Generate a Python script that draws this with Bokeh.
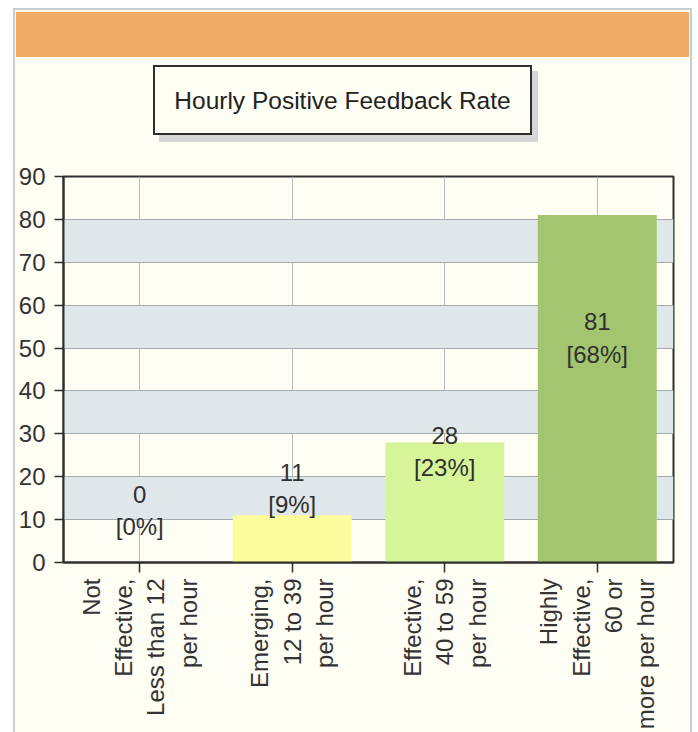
import math
from bokeh.plotting import figure
from bokeh.models import Range1d, FactorRange, SingleIntervalTicker, ColumnDataSource, Div
from bokeh.layouts import column, row
from bokeh.embed import file_html
from bokeh.resources import INLINE
from bokeh.core.properties import value

# ---------------- data ----------------
chart_title = "Hourly Positive Feedback Rate"
categories = [
    "Not\nEffective,\nLess than 12\nper hour",
    "Emerging,\n12 to 39\nper hour",
    "Effective,\n40 to 59\nper hour",
    "Highly\nEffective,\n60 or\nmore per hour",
]
counts = [0, 11, 28, 81]
percents = [0, 9, 23, 68]
y_max = 90
y_step = 10

# ---------------- styles / layout ----------------
CREAM = "#fefef4"
BAND = "#e0e7eb"
ORANGE = "#f0ac66"
DARK = "#2e2e2e"
BORDER = "#c8cdd2"
FONT = "Liberation Sans"
bar_colors = ["#fcfc9c", "#fcfc9c", "#d5f598", "#a3c56f"]
label_y = [12.1, 17.3, 25.9, 52.3]   # label block centres (layout)

W = 698
HEAD_H = 160
MAIN_H = 572
LEFT_W = 15
RIGHT_W = 8
FIG_W = W - LEFT_W - RIGHT_W

# ---------------- header (HTML) ----------------
head_html = f"""
<div style="position:relative;box-sizing:border-box;width:{W}px;height:{HEAD_H}px;background:#ffffff;overflow:hidden;margin:0;padding:0;">
  <div style="position:absolute;box-sizing:border-box;left:13px;top:8px;width:679px;height:300px;border:2px solid {BORDER};background:{CREAM};"></div>
  <div style="position:absolute;box-sizing:border-box;left:16px;top:12px;width:673px;height:45px;background:{ORANGE};"></div>
  <div style="position:absolute;box-sizing:border-box;left:159px;top:71px;width:379px;height:71px;background:#d6d6d6;"></div>
  <div style="position:absolute;box-sizing:border-box;left:153px;top:65px;width:379px;height:70px;border:2px solid {DARK};background:{CREAM};
              display:flex;align-items:center;justify-content:center;
              font-family:'{FONT}';font-size:24.5px;color:#222222;white-space:nowrap;">{chart_title}</div>
</div>
"""
head = Div(text=head_html, width=W, height=HEAD_H, margin=(0, 0, 0, 0))

left_html = f"""
<div style="position:relative;box-sizing:border-box;width:{LEFT_W}px;height:{MAIN_H}px;background:#ffffff;margin:0;padding:0;">
  <div style="position:absolute;left:13px;top:0;width:2px;height:{MAIN_H}px;background:{BORDER};"></div>
</div>
"""
right_html = f"""
<div style="position:relative;box-sizing:border-box;width:{RIGHT_W}px;height:{MAIN_H}px;background:#ffffff;margin:0;padding:0;">
  <div style="position:absolute;left:0;top:0;width:2px;height:{MAIN_H}px;background:{BORDER};"></div>
</div>
"""
left_strip = Div(text=left_html, width=LEFT_W, height=MAIN_H, margin=(0, 0, 0, 0))
right_strip = Div(text=right_html, width=RIGHT_W, height=MAIN_H, margin=(0, 0, 0, 0))

# ---------------- main chart ----------------
src = ColumnDataSource(dict(
    cat=categories,
    count=counts,
    color=bar_colors,
    label=[f"{c}\n[{pc}%]" for c, pc in zip(counts, percents)],
    ly=label_y,
))

p = figure(width=FIG_W, height=MAIN_H, x_range=FactorRange(*categories), y_range=Range1d(0, y_max),
           toolbar_location=None, output_backend="svg",
           min_border_left=47, min_border_right=17, min_border_top=16, min_border_bottom=170,
           background_fill_color=CREAM, border_fill_color=CREAM,
           outline_line_color=DARK, outline_line_width=2, margin=(0, 0, 0, 0))

p.vbar(x="cat", top="count", width=0.78, fill_color="color", line_color=None, source=src)
p.text(x="cat", y="ly", text="label", source=src, text_align="center", text_baseline="middle",
       text_font=value(FONT), text_font_size="24px", text_color="#303030", text_line_height=1.2)

# grids
p.ygrid.ticker = SingleIntervalTicker(interval=y_step)
p.ygrid.grid_line_color = "#a4abb0"
p.ygrid.grid_line_width = 1
p.ygrid.band_fill_color = BAND
p.ygrid.band_fill_alpha = 1.0
p.xgrid.grid_line_color = "#b8bcc0"
p.xgrid.grid_line_width = 1

# y axis
p.yaxis.ticker = SingleIntervalTicker(interval=y_step)
p.yaxis.axis_line_color = DARK
p.yaxis.axis_line_width = 2
p.yaxis.major_tick_line_color = DARK
p.yaxis.major_tick_line_width = 1.5
p.yaxis.major_tick_in = 0
p.yaxis.major_tick_out = 9
p.yaxis.minor_tick_line_color = None
p.yaxis.major_label_standoff = 9
p.yaxis.major_label_text_font = FONT
p.yaxis.major_label_text_font_size = "24px"
p.yaxis.major_label_text_color = "#333333"

# x axis
p.xaxis.axis_line_color = DARK
p.xaxis.axis_line_width = 2
p.xaxis.major_tick_line_color = DARK
p.xaxis.major_tick_line_width = 1.5
p.xaxis.major_tick_in = 0
p.xaxis.major_tick_out = 10
p.xaxis.major_label_standoff = 6
p.xaxis.major_label_orientation = math.pi / 2
p.xaxis.major_label_text_font = FONT
p.xaxis.major_label_text_font_size = "24px"
p.xaxis.major_label_text_color = "#333333"
p.xaxis.major_label_text_line_height = 1.2

layout = column(head, row(left_strip, p, right_strip, spacing=0), spacing=0)
open("out.html", "w").write(file_html(layout, INLINE))
